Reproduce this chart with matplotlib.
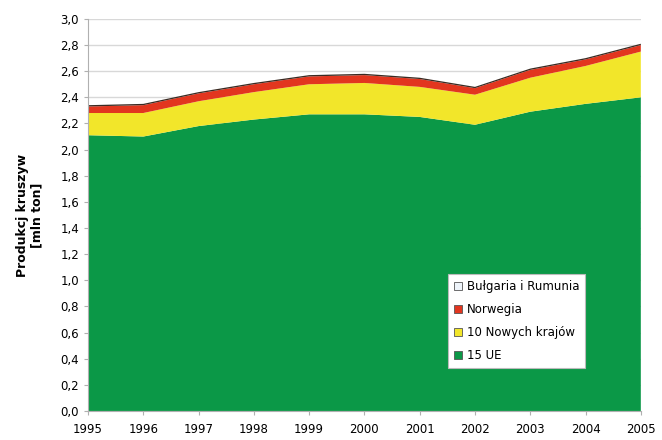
import matplotlib
matplotlib.use('Agg')
import matplotlib.pyplot as plt
from matplotlib.ticker import MultipleLocator, FuncFormatter
from matplotlib.patches import Patch

years = [1995, 1996, 1997, 1998, 1999, 2000, 2001, 2002, 2003, 2004, 2005]
ue15 = [2.11, 2.10, 2.18, 2.23, 2.27, 2.27, 2.25, 2.19, 2.29, 2.35, 2.40]
nowe10 = [0.17, 0.18, 0.19, 0.21, 0.23, 0.24, 0.23, 0.23, 0.26, 0.29, 0.35]
norwegia = [0.05, 0.06, 0.06, 0.06, 0.06, 0.06, 0.06, 0.05, 0.06, 0.05, 0.05]
bulg_rum = [0.01, 0.01, 0.01, 0.01, 0.01, 0.01, 0.01, 0.01, 0.01, 0.01, 0.01]

labels = ['15 UE', '10 Nowych krajów', 'Norwegia', 'Bułgaria i Rumunia']
colors = ['#0b9847', '#f2e62a', '#e2361f', '#3a2a22']

fig = plt.figure(figsize=(6.62, 4.4), dpi=100)
ax = fig.add_axes([0.133, 0.066, 0.835, 0.891])

ax.stackplot(years, ue15, nowe10, norwegia, bulg_rum, colors=colors, linewidth=0)

ax.set_xlim(1995, 2005)
ax.set_ylim(0, 3.0)
ax.yaxis.set_major_locator(MultipleLocator(0.2))
ax.yaxis.set_major_formatter(FuncFormatter(lambda v, p: f'{v:.1f}'.replace('.', ',')))
ax.set_xticks(years)
ax.grid(True, axis='y', color='#d8d8d8', linewidth=1)
ax.set_axisbelow(True)
for s in ['top', 'right']:
    ax.spines[s].set_visible(False)
for s in ['left', 'bottom']:
    ax.spines[s].set_color('#b0b0b0')
ax.tick_params(axis='both', labelsize=8.5, color='#b0b0b0', length=3)
ax.tick_params(axis='x', pad=6)

ax.set_ylabel('Produkcj kruszyw\n[mln ton]', fontsize=9, fontweight='bold', labelpad=12)

# legend order as in the reference (top series first)
handles = [
    Patch(facecolor='#eef4fa', edgecolor='#555555', linewidth=0.6),
    Patch(facecolor=colors[2], edgecolor='#555555', linewidth=0.6),
    Patch(facecolor=colors[1], edgecolor='#555555', linewidth=0.6),
    Patch(facecolor=colors[0], edgecolor='#555555', linewidth=0.6),
]
leg = ax.legend(handles, [labels[3], labels[2], labels[1], labels[0]],
                loc='lower right', bbox_to_anchor=(0.91, 0.095), fontsize=8.5,
                frameon=True, fancybox=False, framealpha=1, handlelength=0.7,
                handleheight=0.7, handletextpad=0.4, labelspacing=0.85, borderpad=0.5)
leg.get_frame().set_facecolor('white')
leg.get_frame().set_edgecolor('#bbbbbb')
leg.get_frame().set_linewidth(0.8)

fig.savefig('out.png', dpi=100)
